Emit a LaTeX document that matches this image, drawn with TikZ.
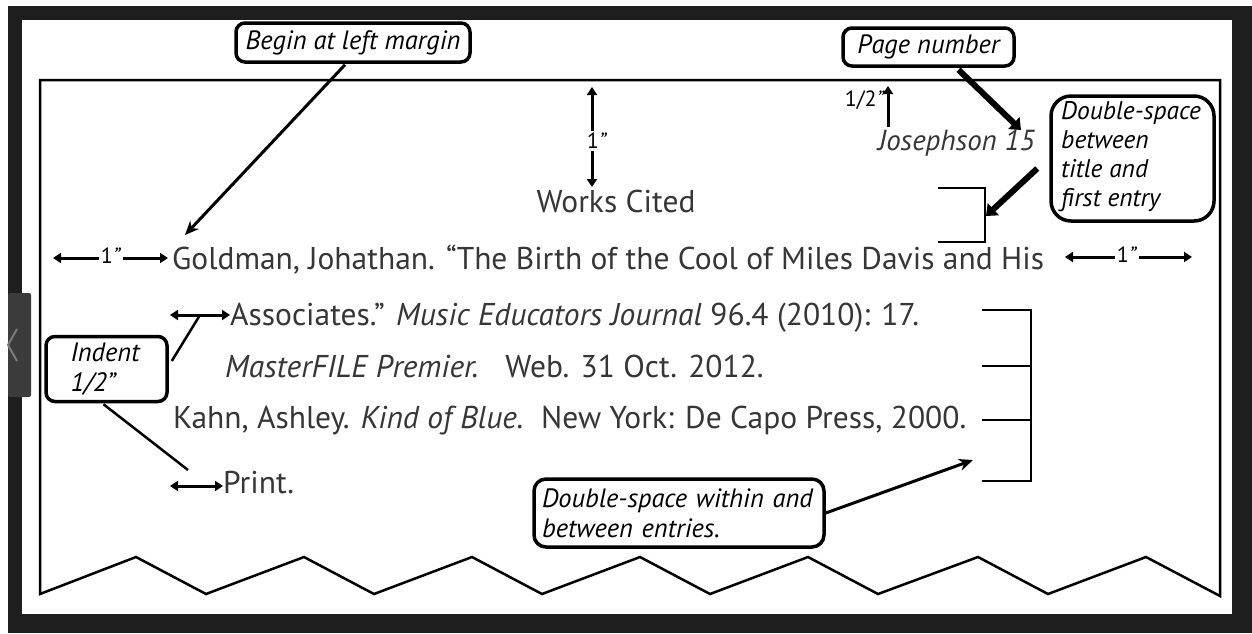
\documentclass[tikz,border=0pt]{standalone}
\usepackage{fontspec}
\setmainfont{PT Sans}
\usetikzlibrary{arrows.meta,calc}
\definecolor{framec}{HTML}{1E1E1E}
\definecolor{txtc}{HTML}{363636}
\definecolor{tabc}{HTML}{3B3B3B}
\definecolor{chevc}{HTML}{7A7A7A}
\begin{document}
\begin{tikzpicture}[x=1pt,y=-1pt,
  maintext/.style={anchor=base west,inner sep=0pt,text=txtc,font=\fontsize{31.5}{36}\selectfont},
  notebox/.style={draw,line width=3.5pt,rounded corners=9pt,inner sep=0pt,align=left,font=\fontsize{26.5}{30}\selectfont\itshape},
  notetext/.style={inner sep=0pt,align=left,font=\fontsize{25.5}{29}\selectfont\itshape},
  dimlabel/.style={inner sep=0pt,font=\fontsize{22}{24}\selectfont},
  dimarrow/.style={line width=3pt,-{Triangle[length=8pt,width=10pt]}},
  dimboth/.style={line width=3pt,{Triangle[length=8pt,width=10pt]}-{Triangle[length=8pt,width=10pt]}},
  leader/.style={line width=2.5pt},
  pointer/.style={line width=3pt,-{Stealth[length=14pt,width=12pt]}},
  heavy/.style={line width=6pt,-{Triangle[length=10pt,width=16pt]}},
  bracketline/.style={line width=2.5pt},
  pageline/.style={line width=2.5pt,line join=miter}
]
\useasboundingbox (0,0) rectangle (1252,633);
\fill[white] (0,0) rectangle (1252,633);
\fill[framec] (8,6) rectangle (1252,633);
\fill[white] (22,20) rectangle (1232,614);
\fill[tabc,rounded corners=2pt] (8,293) rectangle (31,397);
\draw[chevc,line width=2pt] (17,329) -- (8,345) -- (17,361);

% page outline with torn (zigzag) bottom
\draw[pageline] (40,594) -- (40,80) -- (1220,80) -- (1220,596) -- (1146,557) -- (1048,594) -- (978,557) -- (878,594) -- (808,557) -- (710,594) -- (640,557) -- (542,594) -- (472,557) -- (374,594) -- (304,557) -- (206,594) -- (136,557) -- cycle;

% main text
\node[maintext,anchor=base] (wc) at (616,212) {Works Cited};
\node[maintext,font=\fontsize{29}{34}\selectfont\itshape] (jo) at (878,150) {Josephson 15};
\node[maintext] (t1) at (172,269) {Goldman, Johathan. “The Birth of the Cool of Miles Davis and His};
\node[maintext] (t2) at (230,325) {Associates.” \textit{Music Educators Journal} 96.4 (2010): 17.};
\node[maintext] (t3) at (225,377) {\textit{MasterFILE Premier.}\hspace{0.5em} Web. 31 Oct. 2012.};
\node[maintext] (t4) at (173,428) {Kahn, Ashley. \textit{Kind of Blue.}\hspace{0.2em} New York: De Capo Press, 2000.};
\node[maintext] (t5) at (223,493) {Print.};

% annotation boxes
\node[notebox,minimum width=234pt,minimum height=39pt] (begin) at (353,42.5) {Begin at left margin};
\node[notebox,minimum width=171pt,minimum height=38pt] (pnum) at (928.5,47) {Page number};
\node[notebox,rounded corners=20pt,minimum width=163pt,minimum height=125pt] (dsbox) at (1132.5,158.5) {};
\node[notetext,anchor=base west] (dstext) at (1061,206) {Double-space\\between\\title and\\first entry};
\node[notebox,minimum width=121pt,minimum height=65pt,text width=72pt] (ind) at (106.5,369) {Indent\\1/2\textit{"}};
\node[notebox,rounded corners=12pt,minimum width=290pt,minimum height=68pt,text width=274pt] (within) at (679,513) {Double-space within and\\between entries.};

% vertical 1" (top margin)
\node[dimlabel] (v1) at (597,141) {1\textit{"}};
\coordinate (v1t) at (592,87);
\coordinate (v1b) at (592,187);
\draw[dimarrow] ($(v1t |- v1.north)+(0,-2)$) -- (v1t);
\draw[dimarrow] ($(v1b |- v1.south)+(0,2)$) -- (v1b);

% 1/2" header margin
\node[dimlabel,anchor=east] (hl) at (885,100) {1/2\textit{"}};
\coordinate (h1) at (888,127);
\coordinate (h2) at (888,86);
\draw[dimarrow] (h1) -- (h2);

% left 1"
\node[dimlabel] (l1) at (111,256) {1\textit{"}};
\coordinate (l1a) at (53,258);
\coordinate (l1b) at (168,258);
\draw[dimarrow] ($(l1.west |- l1a)+(-2,0)$) -- (l1a);
\draw[dimarrow] ($(l1.east |- l1b)+(2,0)$) -- (l1b);

% right 1"
\node[dimlabel] (r1) at (1127,255) {1\textit{"}};
\coordinate (r1a) at (1065,257);
\coordinate (r1b) at (1192,257);
\draw[dimarrow] ($(r1.west |- r1a)+(-2,0)$) -- (r1a);
\draw[dimarrow] ($(r1.east |- r1b)+(2,0)$) -- (r1b);

% indent arrows
\coordinate (ia1) at (170,315);
\coordinate (ia2) at (230,315);
\draw[dimboth] (ia1) -- (ia2);
\coordinate (pa1) at (170,486);
\coordinate (pa2) at (223,486);
\draw[dimboth] (pa1) -- (pa2);
\coordinate (pl) at (188,470);
\draw[leader] ($(ind.east)+(3,-8)$) -- ($(ia1)!0.5!(ia2)$);
\draw[leader] ($(ind.south)+(-3,1)$) -- (pl);

% brackets
\coordinate (ba) at (938,188);
\coordinate (bb) at (985,188);
\coordinate (bc) at (985,242);
\coordinate (bd) at (938,242);
\coordinate (bm) at (986,216);
\draw[bracketline] (ba) -- (bb) -- (bc) -- (bd);
\coordinate (ra) at (982,310);
\coordinate (rb) at (1031,310);
\coordinate (rc) at (1031,481);
\coordinate (rd) at (982,481);
\coordinate (re) at (982,366);
\coordinate (rf) at (982,420);
\draw[bracketline] (ra) -- (rb) -- (rc) -- (rd);
\draw[bracketline] (re) -- (re -| rb);
\draw[bracketline] (rf) -- (rf -| rb);
\coordinate (wt) at (973,460);

% pointers
\coordinate (bt) at (185,235);
\draw[pointer] ($(begin.south)+(-8,1)$) -- (bt);
\coordinate (pt) at (1021,130);
\draw[heavy] ($(pnum.south)+(30,2)$) -- (pt);
\draw[heavy] ($(dsbox.west)+(-12,10)$) -- (bm);
\draw[pointer] (within.east) -- (wt);
\end{tikzpicture}
\end{document}
